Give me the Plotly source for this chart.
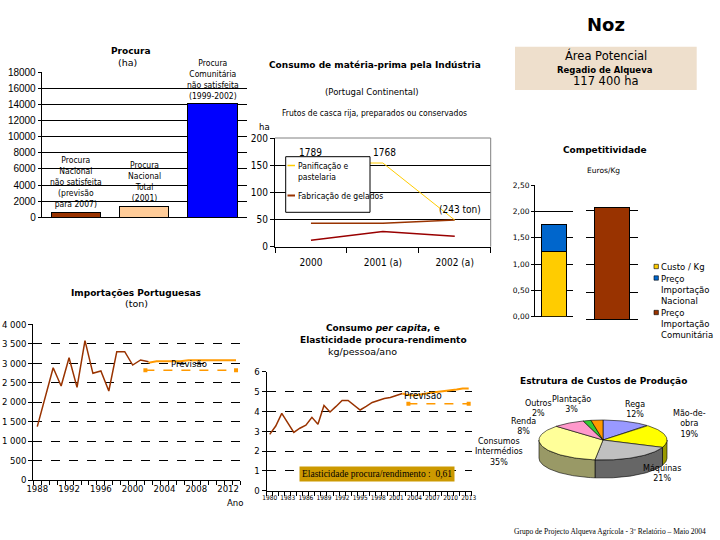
import numpy as np
import plotly.graph_objects as go

# ================= DATA =================
procura_labels = ["Procura<br>Nacional<br>não satisfeita<br>(previsão<br>para 2007)",
                  "Procura<br>Nacional<br>Total<br>(2001)",
                  "Procura<br>Comunitária<br>não satisfeita<br>(1999-2002)"]
procura_values = [600, 1400, 14100]

mp_categories = ["2000", "2001 (a)", "2002 (a)"]
mp_panificacao = [154, 154, 49]
mp_gelados = [43, 43, 49]
mp_outros = [12, 28, 19]
mp_panificacao_labels = ["1789", "1768", "(243 ton)"]
mp_names = ["Panificação e<br>pastelaria", "Fabricação de gelados", "Outros"]

comp_custo_kg = 1.23
comp_preco_nacional = 1.75
comp_preco_comunitario = 2.05
comp_names = ["Custo / Kg", "Preço<br>Importação<br>Nacional", "Preço<br>Importação<br>Comunitária"]

imp_years = list(range(1988, 2003))
imp_values = [1370, 2130, 2885, 2415, 3142, 2381, 3579, 2741, 2800, 2286, 3296, 3296, 2954, 3083, 3040]
imp_prev_years = list(range(2002, 2014))
imp_prev_values = [3015, 3050, 3050, 3050, 3050, 3075, 3075, 3075, 3075, 3075, 3075, 3075]
imp_prev2_years = [2001.6, 2013]
imp_prev2_values = [2820, 2820]
imp_tick_years = list(range(1988, 2013, 4))

pc_years = list(range(1980, 2003))
pc_values = [2.84, 3.26, 3.9, 3.4, 2.94, 3.15, 3.3, 3.7, 3.35, 4.3, 3.97, 4.25, 4.55,
             4.55, 4.32, 4.07, 4.25, 4.45, 4.55, 4.65, 4.7, 4.8, 4.9]
pc_prev_years = list(range(2002, 2014))
pc_prev_values = [4.9, 4.82, 4.8, 4.86, 4.9, 4.95, 4.99, 5.02, 5.05, 5.1, 5.15, 5.15]
pc_prev2_years = [2003, 2013]
pc_prev2_values = [4.39, 4.39]
pc_tick_years = list(range(1980, 2014, 3))
elasticidade = 0.61

custos_labels = ["Rega", "Mão-de-obra", "Máquinas", "Consumos Intermédios", "Renda", "Outros", "Plantação"]
custos_values = [12, 19, 21, 35, 8, 2, 3]

# ================= STYLE =================
W, H = 720, 540
SANS = "DejaVu Sans, Verdana, sans-serif"
NARROW = "Liberation Sans Narrow, DejaVu Sans Condensed, Arial Narrow, Liberation Sans, sans-serif"
ARIAL = "Liberation Sans, Arial, sans-serif"
SERIF = "Liberation Serif, Times New Roman, serif"

PROCURA_COLORS = ["#993300", "#FFCC99", "#0000FF"]
PIE_TOP = ["#9999FF", "#FFFF00", "#C0C0C0", "#FFFF99", "#FF99CC", "#33CC33", "#FF9900"]
PIE_SIDE = ["#5C5C99", "#999900", "#666666", "#999966", "#995C7A", "#1F7A1F", "#995C00"]
PIE_LABEL_POS = {"Rega": (635, 409), "Mão-de-obra": (689, 424), "Máquinas": (662, 473),
                 "Consumos Intermédios": (499, 452.5), "Renda": (523, 426),
                 "Outros": (538, 408.5), "Plantação": (571, 404.5)}
PIE_DISPLAY = {"Mão-de-obra": "Mão-de-<br>obra", "Consumos Intermédios": "Consumos<br>Intermédios"}


def dx(x0, x1):
    return [x0 / W, x1 / W]


def dy(ytop, ybot):
    return [1 - ybot / H, 1 - ytop / H]


ann = []
shapes = []


def T(x, y, s, size=9, family=SANS, xa="center", ya="middle", **kw):
    ann.append(dict(xref="paper", yref="paper", x=x / W, y=1 - y / H, text=s, showarrow=False,
                    font=dict(size=size, family=family, color="black"), xanchor=xa, yanchor=ya, **kw))


def R(x0, y0, x1, y1, fill=None, line=None, width=1, layer="above"):
    shapes.append(dict(type="rect", xref="paper", yref="paper", x0=x0 / W, x1=x1 / W,
                       y0=1 - y0 / H, y1=1 - y1 / H, fillcolor=fill or "rgba(0,0,0,0)",
                       line=dict(color=line or "rgba(0,0,0,0)", width=width if line else 0), layer=layer))


def L(x0, y0, x1, y1, color="black", width=1):
    shapes.append(dict(type="line", xref="paper", yref="paper", x0=x0 / W, x1=x1 / W,
                       y0=1 - y0 / H, y1=1 - y1 / H, line=dict(color=color, width=width), layer="above"))


fig = go.Figure()
common = dict(showlegend=False, hoverinfo="skip")

# ---------- Procura ----------
fig.add_trace(go.Bar(x=list(range(len(procura_values))), y=procura_values, width=0.72,
                     marker=dict(color=PROCURA_COLORS, line=dict(color="black", width=1)),
                     xaxis="x", yaxis="y", **common))
for i, (lab, v) in enumerate(zip(procura_labels, procura_values)):
    ann.append(dict(xref="x", yref="y", x=i, y=v, text=lab, showarrow=False, yanchor="bottom",
                    yshift=1, font=dict(size=8.5, family=NARROW, color="black")))
T(130, 51, "<b>Procura</b>", 9)
T(127, 62.5, "(ha)", 9.5)

# ---------- Consumo de matéria-prima ----------
mp_idx = list(range(len(mp_categories)))
fig.add_trace(go.Scatter(x=mp_idx, y=mp_outros, mode="lines", line=dict(color="#990000", width=1.5),
                         xaxis="x2", yaxis="y2", **common))
fig.add_trace(go.Scatter(x=mp_idx, y=mp_gelados, mode="lines", line=dict(color="#993300", width=1.5),
                         xaxis="x2", yaxis="y2", **common))
fig.add_trace(go.Scatter(x=mp_idx, y=mp_panificacao, mode="lines", line=dict(color="#FFCC00", width=1),
                         xaxis="x2", yaxis="y2", **common))
for i, v, lab, xs_ in zip(mp_idx, mp_panificacao, mp_panificacao_labels, [0, 2, 5]):
    ann.append(dict(xref="x2", yref="y2", x=i, y=v, text=lab, showarrow=False, yanchor="bottom",
                    yshift=3, xshift=xs_, font=dict(size=10, family=NARROW, color="black")))
T(375, 65, "<b>Consumo de matéria-prima pela Indústria</b>", 9)
T(372, 92, "(Portugal Continental)", 8.5)
T(374, 113, "Frutos de casca rija, preparados ou conservados", 8.5, NARROW)
T(264, 127, "ha", 9.5, NARROW)
# plot border (grey top/right)
L(275, 138, 490.7, 138, "#808080")
L(490.7, 138, 490.7, 246.7, "#808080")
# legend box
R(285.7, 156.7, 370, 212.3, fill="white", line="black", width=1)
L(287.5, 165.5, 295, 165.5, "#FFCC00", 1.5)
L(287.5, 195.5, 295, 195.5, "#993300", 2)
T(296, 159, mp_names[0], 8.5, NARROW, xa="left", ya="top", align="left")
T(296, 195.5, mp_names[1], 8.5, NARROW, xa="left")

# ---------- Noz / Área potencial ----------
T(606, 25, "<b>Noz</b>", 18)
R(515, 46.7, 696.7, 90, fill="#EEDFCC", layer="below")
T(606, 55, "Área Potencial", 11.5)
T(605, 69.5, "<b>Regadio de Alqueva</b>", 8.5)
T(606, 81, "117 400 ha", 11.5)

# ---------- Competitividade ----------
fig.add_trace(go.Bar(x=[0], y=[comp_custo_kg], width=0.65, marker=dict(color="#FFCC00", line=dict(color="black", width=1)),
                     xaxis="x3", yaxis="y3", **common))
fig.add_trace(go.Bar(x=[0], y=[comp_preco_nacional - comp_custo_kg], width=0.65,
                     marker=dict(color="#0066CC", line=dict(color="black", width=1)),
                     xaxis="x3", yaxis="y3", **common))
fig.add_trace(go.Bar(x=[0], y=[comp_preco_comunitario], width=0.67,
                     marker=dict(color="#993300", line=dict(color="black", width=1)),
                     xaxis="x4", yaxis="y4", **common))
T(605, 150, "<b>Competitividade</b>", 9)
T(603, 170.5, "Euros/Kg", 7.5)
for col, yy in zip(["#FFCC00", "#0066CC", "#993300"], [266.5, 278, 312.5]):
    R(654, yy - 2.2, 658.4, yy + 2.2, fill=col, line="black", width=0.6)
T(659, 266.5, comp_names[0], 8.5, xa="left")
T(659, 272, comp_names[1], 8.5, xa="left", ya="top", align="left")
T(659, 306.5, comp_names[2], 8.5, xa="left", ya="top", align="left")

# ---------- Importações ----------
fig.add_trace(go.Scatter(x=imp_years, y=imp_values, mode="lines", line=dict(color="#993300", width=1.5),
                         xaxis="x5", yaxis="y5", **common))
fig.add_trace(go.Scatter(x=imp_prev_years, y=imp_prev_values, mode="lines", line=dict(color="#FF9900", width=2),
                         xaxis="x5", yaxis="y5", **common))
fig.add_trace(go.Scatter(x=imp_prev2_years, y=imp_prev2_values, mode="lines+markers",
                         line=dict(color="#FF9900", width=1.5, dash="dash"),
                         marker=dict(symbol="square", size=4, color="#FF9900"),
                         xaxis="x5", yaxis="y5", **common))
ann.append(dict(xref="x5", yref="y5", x=2007.1, y=imp_prev2_values[0], text="Previsão", showarrow=False,
                yanchor="bottom", yshift=-1, font=dict(size=9.5, family=NARROW, color="black")))
T(136, 293, "<b>Importações Portuguesas</b>", 9)
T(136, 303.5, "(ton)", 9.5)
T(235, 502, "Ano", 9.5, NARROW)

# ---------- Consumo per capita ----------
fig.add_trace(go.Scatter(x=pc_years, y=pc_values, mode="lines", line=dict(color="#993300", width=1.5),
                         xaxis="x6", yaxis="y6", **common))
fig.add_trace(go.Scatter(x=pc_prev_years, y=pc_prev_values, mode="lines", line=dict(color="#FF9900", width=2),
                         xaxis="x6", yaxis="y6", **common))
fig.add_trace(go.Scatter(x=pc_prev2_years, y=pc_prev2_values, mode="lines+markers",
                         line=dict(color="#FF9900", width=1.5, dash="dash"),
                         marker=dict(symbol="square", size=4, color="#FF9900"),
                         xaxis="x6", yaxis="y6", **common))
ann.append(dict(xref="x6", yref="y6", x=2005.4, y=pc_prev2_values[0], text="Previsão", showarrow=False,
                yanchor="bottom", yshift=1, font=dict(size=10, family=NARROW, color="black")))
T(383, 328, "<b>Consumo <i>per capita</i>, e</b>", 9)
T(383, 339.5, "<b>Elasticidade procura-rendimento</b>", 9)
T(362, 351, "kg/pessoa/ano", 9.5)
T(377, 473.5, "Elasticidade procura/rendimento :  " + f"{elasticidade:.2f}".replace(".", ","), 9.5, SERIF,
  bgcolor="#CC9900", borderpad=2)

# ---------- Estrutura de custos (pseudo 3D pie) ----------
cx, cy, rx, ry, dz = 603.0, 440.0, 64.0, 20.0, 18.0
vals = np.array(custos_values, dtype=float)
edges = np.concatenate([[0.0], np.cumsum(vals)]) / vals.sum() * 360.0


def ell(t):
    r = np.radians(t)
    return cx + rx * np.sin(r), cy - ry * np.cos(r)


for i in range(len(vals)):
    lo, hi = max(edges[i], 90.0), min(edges[i + 1], 270.0)
    if hi > lo:
        t = np.linspace(lo, hi, 60)
        xs, ys = ell(t)
        fig.add_trace(go.Scatter(x=np.concatenate([xs, xs[::-1], xs[:1]]),
                                 y=np.concatenate([ys, ys[::-1] + dz, ys[:1]]),
                                 mode="lines", fill="toself", fillcolor=PIE_SIDE[i],
                                 line=dict(color="black", width=0.6), xaxis="x7", yaxis="y7", **common))
for i in range(len(vals)):
    t = np.linspace(edges[i], edges[i + 1], 60)
    xs, ys = ell(t)
    fig.add_trace(go.Scatter(x=np.concatenate([[cx], xs, [cx]]), y=np.concatenate([[cy], ys, [cy]]),
                             mode="lines", fill="toself", fillcolor=PIE_TOP[i],
                             line=dict(color="black", width=0.6), xaxis="x7", yaxis="y7", **common))
for lab, v in zip(custos_labels, custos_values):
    x, y = PIE_LABEL_POS[lab]
    pct = round(v / sum(custos_values) * 100)
    T(x, y, f"{PIE_DISPLAY.get(lab, lab)}<br>{pct}%", 8)
T(603, 380.5, "<b>Estrutura de Custos de Produção</b>", 9)

# ---------- footer ----------
T(610, 531.5, "Grupo de Projecto Alqueva Agrícola - 3º Relatório – Maio 2004", 7.5, SERIF)

# ================= AXES =================
blk = "black"
tf = lambda s, f=NARROW: dict(size=s, family=f, color=blk)

layout_axes = dict(
    xaxis=dict(domain=dx(41.7, 246.7), anchor="y", range=[-0.5, 2.5], showticklabels=False, showline=True,
               linecolor=blk, showgrid=False, zeroline=False, ticks=""),
    yaxis=dict(domain=dy(72.3, 217.3), anchor="x", range=[0, 18000], dtick=2000, tickformat="d",
               showgrid=True, gridcolor=blk, showline=True, linecolor=blk, ticks="outside", ticklen=3,
               tickcolor=blk, tickfont=tf(10, ARIAL), zeroline=False),
    xaxis2=dict(domain=dx(275, 490.7), anchor="y2", range=[-0.5, 2.5], tickmode="array",
                tickvals=mp_idx, ticktext=mp_categories, ticks="", showline=True, linecolor=blk,
                tickfont=tf(10), ticklabelstandoff=6, showgrid=False, zeroline=False,
                minor=dict(tickmode="array", tickvals=[-0.5, 0.5, 1.5, 2.5], ticks="outside",
                           ticklen=5, tickcolor=blk, showgrid=False)),
    yaxis2=dict(domain=dy(138, 246.7), anchor="x2", range=[0, 200], dtick=50, tickformat="d",
                showgrid=True, gridcolor=blk, showline=True, linecolor=blk, ticks="outside", ticklen=4,
                tickcolor=blk, tickfont=tf(10), zeroline=False),
    xaxis3=dict(domain=dx(535, 573.3), anchor="y3", range=[-0.5, 0.5], showticklabels=False, showline=False,
                showgrid=False, zeroline=False),
    yaxis3=dict(domain=dy(185, 316.7), anchor="x3", range=[0, 2.5], dtick=0.5, tickformat=".2f",
                showgrid=True, gridcolor=blk, showline=True, linecolor=blk, ticks="outside", ticklen=3,
                tickcolor=blk, tickfont=tf(7.5, SANS), zeroline=True, zerolinecolor=blk, zerolinewidth=1),
    xaxis4=dict(domain=dx(586, 638.3), anchor="y4", range=[-0.5, 0.5], showticklabels=False, showline=False,
                showgrid=False, zeroline=False),
    yaxis4=dict(domain=dy(183.3, 319.3), anchor="x4", range=[0, 2.5], dtick=0.5, showticklabels=False,
                showgrid=True, gridcolor=blk, showline=False, zeroline=True, zerolinecolor=blk, zerolinewidth=1),
    xaxis5=dict(domain=dx(33.3, 240), anchor="y5", range=[1987.5, 2013.5], tickmode="array",
                tickvals=imp_tick_years, ticks="", showline=True, linecolor=blk, showgrid=False,
                zeroline=False, tickfont=tf(9.5), tickangle=0,
                minor=dict(tickmode="array", tickvals=list(np.arange(1987.5, 2014, 1.0)), ticks="outside",
                           ticklen=4, tickcolor=blk, showgrid=False)),
    yaxis5=dict(domain=dy(324.3, 480), anchor="x5", range=[0, 4000], dtick=500, tickformat=",d",
                showgrid=True, gridcolor=blk, griddash="dash", showline=True, linecolor=blk, ticks="outside",
                ticklen=4, tickcolor=blk, tickfont=tf(9.5), zeroline=False),
    xaxis6=dict(domain=dx(266.7, 471.7), anchor="y6", range=[1979.5, 2013.5], tickmode="array",
                tickvals=pc_tick_years, ticks="", showline=True, linecolor=blk, showgrid=False,
                zeroline=False, tickfont=tf(6.5), tickangle=0,
                minor=dict(tickmode="array", tickvals=list(np.arange(1979.5, 2014, 1.0)), ticks="outside",
                           ticklen=4, tickcolor=blk, showgrid=False)),
    yaxis6=dict(domain=dy(371.7, 490.7), anchor="x6", range=[0, 6], dtick=1, tickformat="d",
                showgrid=True, gridcolor=blk, griddash="dash", showline=True, linecolor=blk, ticks="outside",
                ticklen=4, tickcolor=blk, tickfont=tf(9.5), zeroline=False),
    xaxis7=dict(domain=dx(500, 720), anchor="y7", range=[500, 720], visible=False),
    yaxis7=dict(domain=dy(395, 495), anchor="x7", range=[495, 395], visible=False),
)
for k in layout_axes:
    layout_axes[k]["automargin"] = False

fig.update_layout(
    width=W, height=H, margin=dict(l=0, r=0, t=0, b=0, pad=0),
    paper_bgcolor="white", plot_bgcolor="rgba(0,0,0,0)",
    barmode="stack", separators=", ", showlegend=False,
    annotations=ann, shapes=shapes, **layout_axes,
)

fig.write_html("out.html", config={"displayModeBar": False},
               post_script="document.body.style.margin='0';document.body.style.overflow='hidden';")
